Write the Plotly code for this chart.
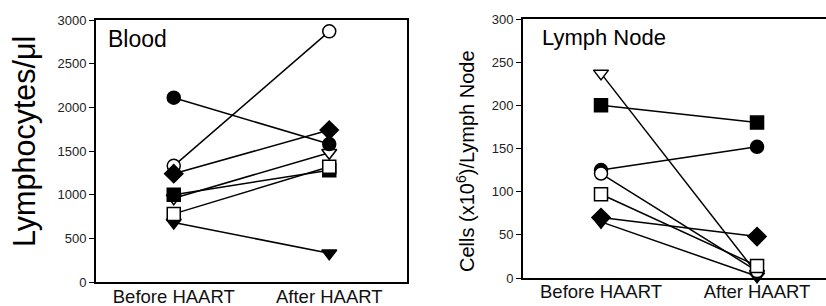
import plotly.graph_objects as go

# ---- data ----
categories = ["Before HAART", "After HAART"]
patients = ["filled triangle", "open triangle", "filled circle", "open circle",
            "filled square", "open square", "filled diamond"]
symbols = ["triangle-down", "triangle-down-open", "circle", "circle-open",
           "square", "square-open", "diamond"]
blood_before = [680, 960, 2110, 1330, 1000, 780, 1240]
blood_after = [330, 1480, 1580, 2870, 1280, 1320, 1740]
node_before = [65, 237, 125, 121, 200, 97, 70]
node_after = [2, 5, 152, 8, 180, 14, 48]
blood_ticks = [0, 500, 1000, 1500, 2000, 2500, 3000]
node_ticks = [0, 50, 100, 150, 200, 250, 300]

W, H = 826, 306
FONT = "Liberation Sans, Arial, Helvetica, sans-serif"

fig = go.Figure()
xpos = [0, 1]


def add_panel(before, after, xa, ya):
    for name, sym, b, a in zip(patients, symbols, before, after):
        is_open = sym.endswith("open")
        fig.add_trace(go.Scatter(
            x=xpos, y=[b, a], mode="lines+markers", name=name,
            xaxis=xa, yaxis=ya, showlegend=False, cliponaxis=False,
            line=dict(color="black", width=1.5),
            marker=dict(symbol=sym.replace("-open", ""), size=13 if "diamond" not in sym else 14,
                        color="white" if is_open else "black",
                        line=dict(color="black", width=1.5)),
        ))


add_panel(blood_before, blood_after, "x", "y")
add_panel(node_before, node_after, "x2", "y2")

base = dict(showgrid=False, zeroline=False, linecolor="black", linewidth=2, showline=True,
            automargin=False)
xfont = dict(family=FONT, size=18.5, color="#111")
yfont = dict(family=FONT, size=13, color="#222")

fig.update_layout(
    template="none",
    width=W, height=H, margin=dict(l=0, r=0, t=0, b=0, autoexpand=False),
    paper_bgcolor="white", plot_bgcolor="white",
    font=dict(family=FONT, color="black"),
    xaxis=dict(domain=[96 / W, 407 / W], range=[-0.5, 1.5], tickvals=xpos, ticktext=categories,
               mirror=True, anchor="y", tickfont=xfont, ticks="", ticklabelstandoff=-3, **base),
    yaxis=dict(domain=[(H - 282) / H, (H - 20) / H], range=[0, 3000], tickvals=blood_ticks,
               mirror=True, ticks="outside", ticklen=5, tickwidth=1, tickcolor="black",
               anchor="x", tickfont=yfont, **base),
    xaxis2=dict(domain=[523 / W, 1.0], range=[-0.5, 1.442], tickvals=xpos, ticktext=categories,
                mirror=True, anchor="y2", tickfont=xfont, ticks="", ticklabelstandoff=-4, **base),
    yaxis2=dict(domain=[(H - 278) / H, (H - 19) / H], range=[0, 300], tickvals=node_ticks,
                mirror=False, ticks="outside", ticklen=5, tickwidth=1, tickcolor="black",
                anchor="x2", tickfont=yfont, **base),
    annotations=[
        dict(text="Blood", xref="paper", yref="paper", x=106 / W, y=(H - 39) / H,
             xanchor="left", yanchor="middle", showarrow=False, font=dict(size=23, family=FONT)),
        dict(text="Lymph Node", xref="paper", yref="paper", x=540 / W, y=(H - 37) / H,
             xanchor="left", yanchor="middle", showarrow=False, font=dict(size=22, family=FONT)),
        dict(text="Lymphocytes/μl", xref="paper", yref="paper", x=24 / W, y=(H - 142) / H,
             xanchor="center", yanchor="middle", textangle=-90, showarrow=False,
             font=dict(size=30.5, family=FONT)),
        dict(text="Cells (x10<sup>6</sup>)/Lymph Node", xref="paper", yref="paper", x=465 / W,
             y=(H - 161) / H, xanchor="center", yanchor="middle", textangle=-90, showarrow=False,
             font=dict(size=20, family=FONT)),
    ],
)

fig.write_html("out.html", config={"displayModeBar": False},
               post_script="document.body.style.margin='0';")
